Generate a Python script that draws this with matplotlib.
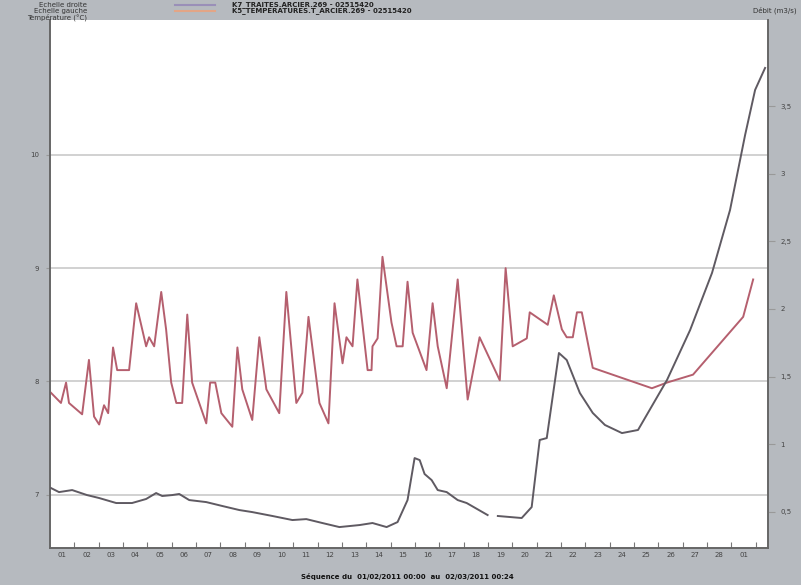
import matplotlib
matplotlib.use("Agg")
import matplotlib.pyplot as plt
import numpy as np

# ---- data (days since 01/02/2011 00:00) ----
temp_days = [0.04, 0.45, 0.66, 0.78, 1.32, 1.60, 1.81, 2.02, 2.22, 2.39, 2.59, 2.76, 3.25, 3.54,
             3.95, 4.07, 4.28, 4.57, 4.77, 4.98, 5.19, 5.43, 5.64, 5.84, 6.42, 6.58, 6.79, 7.04,
             7.49, 7.70, 7.90, 8.31, 8.60, 8.89, 9.42, 9.71, 10.12, 10.37, 10.62, 11.07, 11.44,
             11.69, 12.02, 12.18, 12.43, 12.63, 13.05, 13.21, 13.25, 13.46, 13.66, 14.03, 14.24,
             14.49, 14.69, 14.90, 15.47, 15.72, 15.93, 16.30, 16.75, 17.16, 17.65, 18.48, 18.72,
             19.01, 19.59, 19.71, 20.45, 20.70, 21.03, 21.23, 21.48, 21.65, 21.85, 22.30, 24.73,
             25.35, 26.42, 28.48, 28.89]
temp_vals = [7.90, 7.81, 7.99, 7.81, 7.71, 8.19, 7.69, 7.62, 7.79, 7.72, 8.30, 8.10, 8.10, 8.69,
             8.31, 8.39, 8.31, 8.79, 8.46, 7.99, 7.81, 7.81, 8.59, 7.99, 7.63, 7.99, 7.99, 7.72,
             7.60, 8.30, 7.93, 7.66, 8.39, 7.93, 7.72, 8.79, 7.81, 7.90, 8.57, 7.81, 7.63,
             8.69, 8.16, 8.39, 8.31, 8.90, 8.10, 8.10, 8.31, 8.38, 9.10, 8.52, 8.31,
             8.31, 8.88, 8.43, 8.10, 8.69, 8.31, 7.94, 8.90, 7.84, 8.39, 8.01, 9.00,
             8.31, 8.38, 8.61, 8.50, 8.76, 8.46, 8.39, 8.39, 8.61, 8.61, 8.12, 7.94,
             7.99, 8.06, 8.57, 8.90]

flow_days = [0.04, 0.37, 0.91, 1.52, 2.02, 2.72, 3.37, 3.95, 4.36, 4.61, 5.02, 5.31, 5.72, 6.42,
             7.08, 7.78, 8.31, 9.14, 9.96, 10.53, 11.19, 11.89, 12.72, 13.25, 13.83, 14.28, 14.69,
             14.98, 15.19, 15.39, 15.68, 15.93, 16.30, 16.75, 17.12, 17.98, 18.20, 18.40, 19.38,
             19.79, 20.12, 20.41, 20.91, 21.23, 21.77, 22.30, 22.80, 23.50, 24.16, 25.35, 26.30,
             27.20, 27.94, 28.56, 28.97, 29.38]
flow_vals = [0.674, 0.644, 0.659, 0.622, 0.600, 0.563, 0.563, 0.593, 0.637, 0.615, 0.622, 0.630,
             0.585, 0.570, 0.541, 0.511, 0.496, 0.467, 0.437, 0.444, 0.415, 0.385, 0.400, 0.415,
             0.385, 0.422, 0.585, 0.896, 0.881, 0.778, 0.733, 0.659, 0.644, 0.585, 0.563, 0.474,
             np.nan, 0.467, 0.452, 0.533, 1.030, 1.044, 1.674, 1.622, 1.378, 1.230, 1.141, 1.081,
             1.104, 1.474, 1.844, 2.267, 2.733, 3.289, 3.622, 3.785]

day_labels = ["01", "02", "03", "04", "05", "06", "07", "08", "09", "10", "11", "12", "13", "14",
              "15", "16", "17", "18", "19", "20", "21", "22", "23", "24", "25", "26", "27", "28", "01"]
left_ticks = [7, 8, 9, 10]
right_ticks = [0.5, 1, 1.5, 2, 2.5, 3, 3.5]
right_labels = ["0,5", "1", "1,5", "2", "2,5", "3", "3,5"]

# ---- figure ----
W, H = 801, 585
fig = plt.figure(figsize=(W / 100, H / 100), dpi=100)
fig.patch.set_facecolor("#b6babf")

x0, x1, y0, y1 = 50, 768, 20, 548
ax = fig.add_axes([x0 / W, 1 - y1 / H, (x1 - x0) / W, (y1 - y0) / H])
ax.set_facecolor("white")
ax2 = ax.twinx()

ax.set_xlim(0, 29.5)
ax.set_ylim(6.53, 11.19)
ax2.set_ylim(0.23, 4.14)

for t in left_ticks:
    ax.axhline(t, color="#c9c9c9", lw=1.2, zorder=0)

ax.plot(temp_days, temp_vals, color="#b55f6e", lw=1.4, zorder=3)
ax2.plot(flow_days, flow_vals, color="#5f5a62", lw=1.4, zorder=3)

# x ticks
ax.set_xticks(np.arange(1, 30))
ax.set_xticklabels([])
ax.set_xticks(np.arange(0.5, 29.5, 1.0), minor=True)
ax.set_xticklabels(day_labels, minor=True, fontsize=5, color="#444444")
ax.tick_params(axis="x", which="major", direction="in", length=4, color="#777777", width=0.8)
ax.tick_params(axis="x", which="minor", length=0, pad=3)

ax.set_yticks(left_ticks)
ax.set_yticklabels([str(t) for t in left_ticks], fontsize=5, color="#444444")
ax.tick_params(axis="y", direction="out", length=3, color="#999999", pad=5)

ax2.set_yticks(right_ticks)
ax2.set_yticklabels(right_labels, fontsize=5, color="#444444")
ax2.tick_params(axis="y", direction="out", length=5, color="#999999", pad=4)

for a in (ax, ax2):
    a.spines["top"].set_visible(False)
    for s in ("left", "bottom", "right"):
        a.spines[s].set_color("#666666")
        a.spines[s].set_linewidth(1.2)

# header
fs = 5
fig.text(87 / W, 1 - 5 / H, "Echelle droite", fontsize=fs, ha="right", va="center", color="#333333")
fig.text(87 / W, 1 - 11 / H, "Echelle gauche", fontsize=fs, ha="right", va="center", color="#333333")
fig.text(87 / W, 1 - 17 / H, "Température (°C)", fontsize=fs, ha="right", va="center", color="#333333")
fig.add_artist(plt.Line2D([175 / W, 215 / W], [1 - 5 / H, 1 - 5 / H], color="#9a8fb8", lw=1.5))
fig.add_artist(plt.Line2D([175 / W, 215 / W], [1 - 11 / H, 1 - 11 / H], color="#e3a586", lw=1.5))
fig.text(232 / W, 1 - 5 / H, "K7_TRAITES.ARCIER.269 - 02515420", fontsize=fs, ha="left", va="center",
         color="#222222", fontweight="bold")
fig.text(232 / W, 1 - 11 / H, "K5_TEMPERATURES.T_ARCIER.269 - 02515420", fontsize=fs, ha="left",
         va="center", color="#222222", fontweight="bold")
fig.text(797 / W, 1 - 10 / H, "Débit (m3/s)", fontsize=fs, ha="right", va="center", color="#333333")

fig.text(407 / W, 1 - 576 / H, "Séquence du  01/02/2011 00:00  au  02/03/2011 00:24", fontsize=5,
         ha="center", va="center", color="#111111", fontweight="bold")

fig.savefig("out.png", dpi=100, facecolor=fig.get_facecolor())
